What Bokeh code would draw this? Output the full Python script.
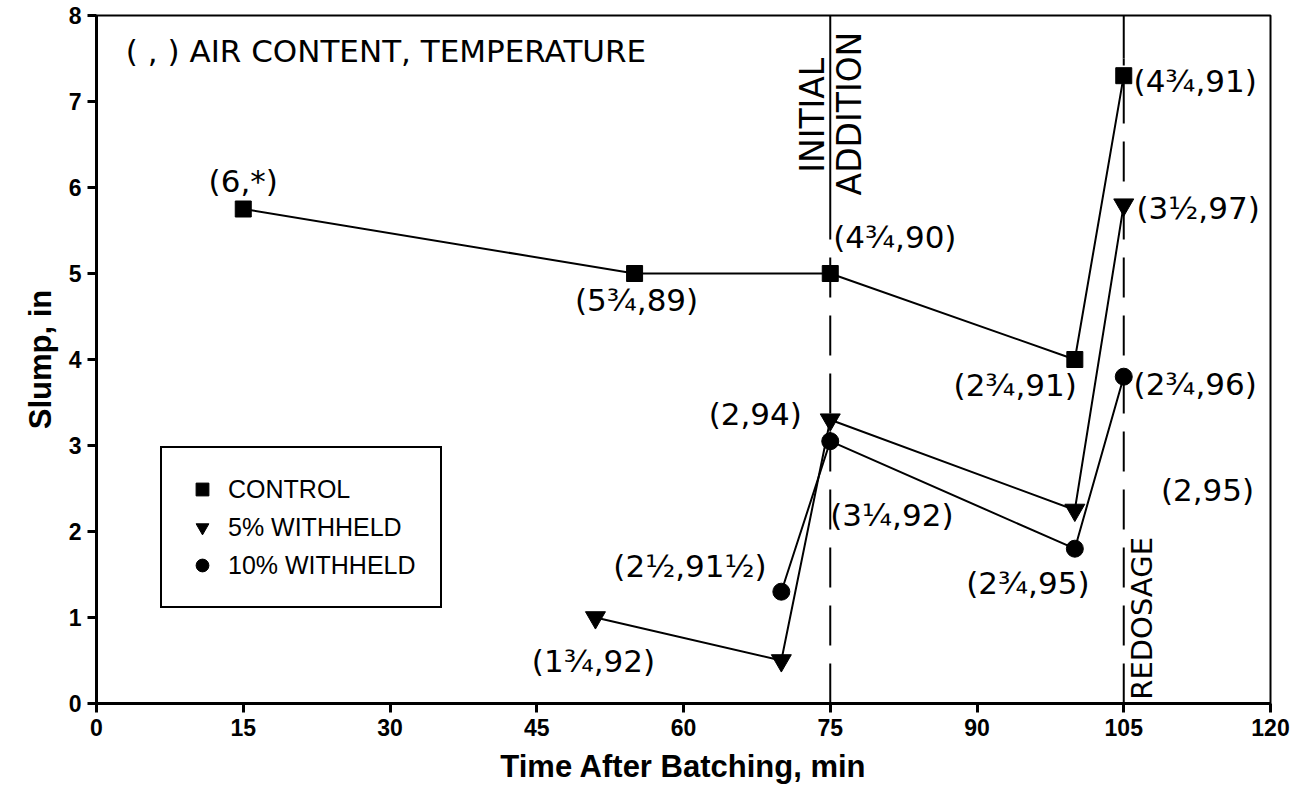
from bokeh.plotting import figure
from bokeh.models import Legend, LegendItem, FixedTicker, Range1d, ColumnDataSource
from bokeh.core.properties import value
from bokeh.embed import file_html
from bokeh.resources import INLINE
import math

# ---- data ----
control_t = [15, 55, 75, 100, 105]
control_slump = [5.75, 5.0, 5.0, 4.0, 7.3]
w5_t = [51, 70, 75, 100, 105]
w5_slump = [1.0, 0.5, 3.3, 2.25, 5.8]
w10_t = [70, 75, 100, 105]
w10_slump = [1.3, 3.05, 1.8, 3.8]

x_ticks = [0, 15, 30, 45, 60, 75, 90, 105, 120]
y_ticks = [0, 1, 2, 3, 4, 5, 6, 7, 8]

event_t = [75, 105]
event_solid_from = [5.75, 7.5]

# point annotations: (air content, temperature)
ann_text = ["(6,*)", "(5¾,89)", "(4¾,90)", "(2¾,91)", "(4¾,91)", "(3½,97)",
            "(2¾,96)", "(2,95)", "(2¾,95)", "(3¼,92)", "(2,94)", "(2½,91½)", "(1¾,92)"]
ann_x = [15, 55.2, 75.3, 100.2, 106.0, 106.3, 106.0, 108.8, 95.2, 75.0, 72.1, 68.5, 50.8]
ann_y = [6.08, 4.69, 5.42, 3.70, 7.24, 5.76, 3.72, 2.48, 1.40, 2.19, 3.37, 1.60, 0.50]
ann_align = ["center", "center", "left", "right", "left", "left", "left", "left",
             "center", "left", "right", "right", "center"]

FONT = "DejaVu Sans"

p = figure(width=1294, height=791, output_backend="svg", toolbar_location=None,
           x_range=Range1d(0, 120), y_range=Range1d(0, 8),
           min_border_left=96, min_border_right=24, min_border_top=15, min_border_bottom=88)
p.xgrid.visible = False
p.ygrid.visible = False
p.outline_line_color = "black"
p.outline_line_width = 2
p.outline_line_alpha = 1
p.background_fill_color = "white"
p.border_fill_color = "white"

for ax, ticks in ((p.xaxis, x_ticks), (p.yaxis, y_ticks)):
    ax.ticker = FixedTicker(ticks=ticks)
    ax.axis_line_width = 3
    ax.axis_line_color = "black"
    ax.major_tick_line_width = 3
    ax.major_tick_line_color = "black"
    ax.major_tick_out = 9
    ax.major_tick_in = 0
    ax.minor_tick_line_color = None
    ax.major_label_text_font = "Liberation Sans"
    ax.major_label_text_font_style = "bold"
    ax.major_label_text_font_size = "23px"
    ax.major_label_text_color = "black"
    ax.axis_label_text_font = "Liberation Sans"
    ax.axis_label_text_font_style = "bold"
    ax.axis_label_text_font_size = "31px"
    ax.axis_label_text_color = "black"

p.xaxis.axis_label = "Time After Batching, min"
p.yaxis.axis_label = "Slump, in"
p.xaxis.major_label_standoff = 6
p.yaxis.major_label_standoff = 6
p.xaxis.axis_label_standoff = 10
p.yaxis.axis_label_standoff = 8

# event lines
for t, s in zip(event_t, event_solid_from):
    p.line([t, t], [s, 8], line_color="black", line_width=2)
    p.line([t, t], [0, s], line_color="black", line_width=2, line_dash="40 18")

# series
p.line(control_t, control_slump, line_color="black", line_width=2)
p.line(w5_t, w5_slump, line_color="black", line_width=2)
p.line(w10_t, w10_slump, line_color="black", line_width=2)
r1 = p.scatter(control_t, control_slump, marker="square", size=16, color="black")
r2 = p.scatter(w5_t, w5_slump, marker="inverted_triangle", size=20, color="black")
r3 = p.scatter(w10_t, w10_slump, marker="circle", size=17, color="black")

# annotations
src = ColumnDataSource(dict(x=ann_x, y=ann_y, text=ann_text, align=ann_align))
p.text(x="x", y="y", text="text", text_align="align", source=src,
       text_baseline="middle", text_font=value(FONT), text_font_size="31px",
       text_color="black")

p.text(x=[3.0], y=[7.59], text=["( , ) AIR CONTENT, TEMPERATURE"], text_align="left",
       text_baseline="middle", text_font=value(FONT), text_font_size="31px", text_color="black")
p.text(x=[73.2, 77.0], y=[6.84, 6.86], text=["INITIAL", "ADDITION"], angle=math.pi / 2,
       text_align="center", text_baseline="middle", text_font=value(FONT),
       text_font_size="33px", text_color="black")
p.text(x=[106.9], y=[0.99], text=["REDOSAGE"], angle=math.pi / 2,
       text_align="center", text_baseline="middle", text_font=value(FONT),
       text_font_size="29px", text_color="black")

legend = Legend(items=[LegendItem(label="CONTROL", renderers=[r1]),
                       LegendItem(label="5% WITHHELD", renderers=[r2]),
                       LegendItem(label="10% WITHHELD", renderers=[r3])],
                location=(64, 95))
legend.label_text_font = "Liberation Sans"
legend.label_text_font_size = "25px"
legend.label_text_color = "black"
legend.border_line_color = "black"
legend.border_line_width = 2
legend.border_line_alpha = 1
legend.padding = 24
legend.spacing = 4
legend.label_standoff = 10
legend.glyph_width = 32
legend.glyph_height = 34
legend.label_height = 34
legend.background_fill_alpha = 1
p.add_layout(legend, "center")

open("out.html", "w").write(file_html(p, INLINE))
